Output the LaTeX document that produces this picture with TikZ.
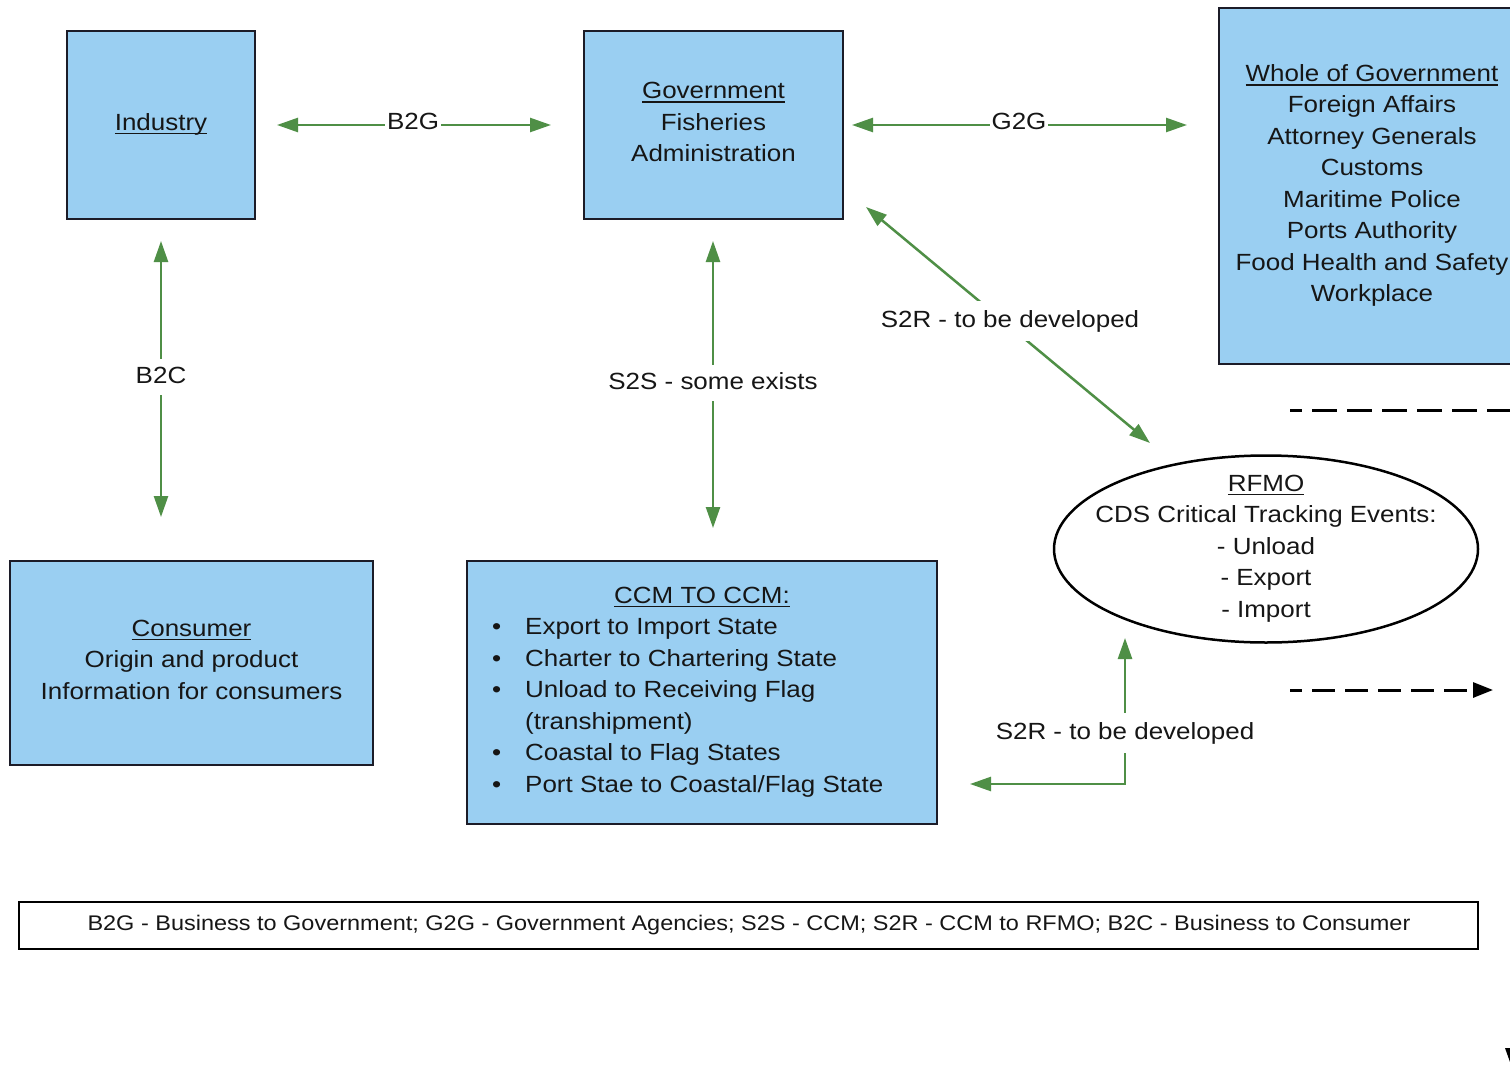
\documentclass[tikz,border=0pt]{standalone}
\usepackage{fontspec}
\setmainfont{Liberation Sans}[FakeStretch=1.11]
\usetikzlibrary{arrows.meta,shapes.geometric}
\definecolor{boxblue}{RGB}{154,207,242}
\definecolor{arrgreen}{RGB}{79,143,70}
\definecolor{txtcol}{RGB}{22,22,22}
\definecolor{edgecol}{RGB}{28,28,40}
\newcommand{\myul}[1]{\leavevmode\setbox0\hbox{#1}\rlap{\rule[-4.2pt]{\wd0}{1.7pt}}\box0}
\begin{document}
\begin{tikzpicture}[x=1pt,y=-1pt,
  bluebox/.style={draw=edgecol, fill=boxblue, line width=2.5pt, inner sep=0pt},
  boxtext/.style={align=center, text=txtcol, font=\fontsize{23.4}{31.5}\selectfont, inner sep=0pt},
  lbl/.style={fill=white, text=txtcol, font=\fontsize{23.4}{31.5}\selectfont, inner xsep=2pt, inner ysep=7pt, text height=17pt, text depth=5pt},
  biarrow/.style={draw=arrgreen, line width=2.5pt, {Triangle[length=21pt,width=14pt]}-{Triangle[length=21pt,width=14pt]}},
  dashline/.style={draw=black, line width=3pt}
]
\useasboundingbox (0,0) rectangle (1510,1068);
\clip (0,0) rectangle (1510,1068);
\fill[white] (0,0) rectangle (1510,1068);

% boxes
\node[bluebox, minimum width=188pt, minimum height=188pt] (ind) at (161,125) {};
\node[boxtext] (indt) at (161,124) {\myul{Industry}};

\node[bluebox, minimum width=259pt, minimum height=188pt] (gov) at (713.5,125) {};
\node[boxtext] (govt) at (713.5,122) {\myul{Government}\\Fisheries\\Administration};

\node[bluebox, minimum width=306pt, minimum height=356pt] (wog) at (1372,186) {};
\node[boxtext] (wogt) at (1372,185.5) {\myul{Whole of Government}\\Foreign Affairs\\Attorney Generals\\Customs\\Maritime Police\\Ports Authority\\Food Health and Safety\\Workplace};

\node[bluebox, minimum width=363pt, minimum height=204pt] (con) at (191.5,663) {};
\node[boxtext] (cont) at (191.5,659.5) {\myul{Consumer}\\Origin and product\\Information for consumers};

\node[bluebox, minimum width=470pt, minimum height=263pt] (ccm) at (702,692.5) {};
\node[boxtext] (ccmt) at (702,597) {\myul{CCM TO CCM:}};
\node[boxtext, align=left, anchor=west] (ccml) at (492,707.5) {\makebox[33pt][l]{•}Export to Import State\\
\makebox[33pt][l]{•}Charter to Chartering State\\
\makebox[33pt][l]{•}Unload to Receiving Flag\\
\makebox[33pt][l]{}(transhipment)\\
\makebox[33pt][l]{•}Coastal to Flag States\\
\makebox[33pt][l]{•}Port Stae to Coastal/Flag State};

\node[ellipse, draw=black, fill=white, line width=2.5pt, minimum width=424pt, minimum height=187pt, inner sep=0pt] (rfmo) at (1266,549) {};
\node[boxtext] (rfmot) at (1266,548.5) {\myul{RFMO}\\CDS Critical Tracking Events:\\- Unload\\- Export\\- Import};

\node[draw=black, line width=2.5pt, minimum width=1459pt, minimum height=47pt, inner sep=0pt] (leg) at (748.5,925.5) {};
\node[text=txtcol, font=\fontsize{21.15}{25}\selectfont, inner sep=0pt] (legt) at (749,925.5) {B2G - Business to Government; G2G - Government Agencies; S2S - CCM; S2R - CCM to RFMO; B2C - Business to Consumer};

% connector end points
\coordinate (b2gL) at (277,125);
\coordinate (b2gR) at (551,125);
\coordinate (g2gL) at (852,125);
\coordinate (g2gR) at (1187,125);
\coordinate (b2cT) at (161,241);
\coordinate (b2cB) at (161,517);
\coordinate (s2sT) at (713,241);
\coordinate (s2sB) at (713,528);
\coordinate (s2rA) at (866,207);
\coordinate (s2rB) at (1150,443);
\coordinate (s2eT) at (1125,638);
\coordinate (s2eC) at (1125,784);
\coordinate (s2eL) at (970,784);

\draw[biarrow] (b2gL) -- (b2gR);
\node[lbl] (b2gl) at (413,123.5) {B2G};
\draw[biarrow] (g2gL) -- (g2gR);
\node[lbl] (g2gl) at (1019,123.5) {G2G};
\draw[biarrow] (b2cT) -- (b2cB);
\node[lbl] (b2cl) at (161,377) {B2C};
\draw[biarrow] (s2sT) -- (s2sB);
\node[lbl] (s2sl) at (713,383) {S2S - some exists};
\draw[biarrow] (s2rA) -- (s2rB);
\node[lbl, inner ysep=9pt] (s2rl) at (1010,321) {S2R - to be developed};
\draw[biarrow] (s2eT) -- (s2eC) -- (s2eL);
\node[lbl, inner ysep=9pt] (s2el) at (1125,733) {S2R - to be developed};

% dashed lines at the right
\coordinate (d1s) at (1290,410);
\coordinate (d1e) at (1512,410);
\draw[dashline, dash pattern=on 25pt off 10pt, dash phase=13pt] (d1s) -- (d1e);
\coordinate (d2s) at (1290,690);
\coordinate (d2e) at (1493,690);
\draw[dashline, dash pattern=on 23pt off 10pt, dash phase=11pt, -{Triangle[length=20pt,width=15pt]}] (d2s) -- (d2e);

% cut-off mark at the bottom right
\fill[black] (1505,1048) -- (1510,1048) -- (1510,1062) -- cycle;
\end{tikzpicture}
\end{document}
